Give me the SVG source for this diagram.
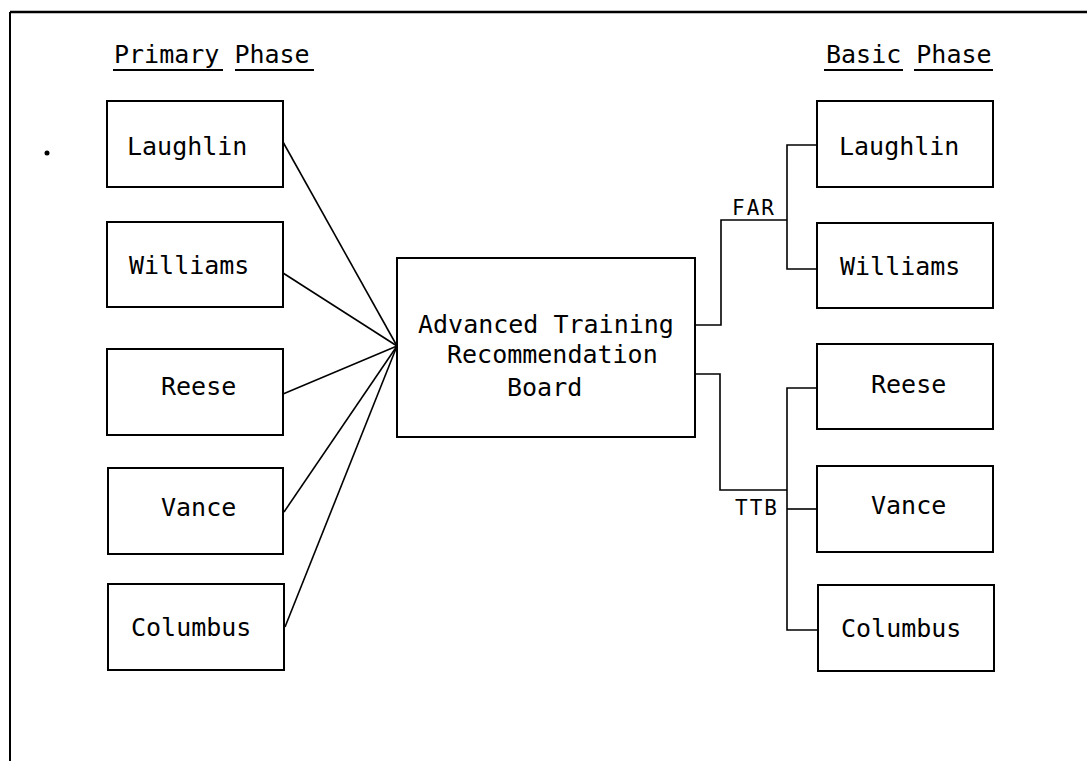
<svg xmlns="http://www.w3.org/2000/svg" width="1087" height="761" viewBox="0 0 1087 761">
<style>
.box{fill:#fff;stroke:#000;stroke-width:2}
.t{font-family:"DejaVu Sans Mono","Liberation Mono",monospace;font-size:25px;fill:#000}
.s{font-family:"DejaVu Sans Mono","Liberation Mono",monospace;font-size:21px;letter-spacing:2px;fill:#000}
.c{fill:none;stroke:#000;stroke-width:1.6}
.u{stroke:#000;stroke-width:2}
</style>
<rect width="1087" height="761" fill="#fff"/>
<g id="frame">
<line x1="10" y1="12" x2="1087" y2="12" stroke="#000" stroke-width="2.5"/>
<line x1="10" y1="12" x2="10" y2="761" stroke="#000" stroke-width="2"/>
<circle cx="47" cy="153" r="2.5" fill="#000"/>
</g>
<g id="headers">
<text class="t" x="114" y="63">Primary Phase</text>
<line class="u" x1="113" y1="70" x2="223" y2="70"/>
<line class="u" x1="235" y1="70" x2="314" y2="70"/>
<text class="t" x="826" y="63">Basic Phase</text>
<line class="u" x1="824" y1="70" x2="903" y2="70"/>
<line class="u" x1="914" y1="70" x2="993" y2="70"/>
</g>
<g id="connectors">
<line class="c" x1="283" y1="142" x2="397" y2="346"/>
<line class="c" x1="283" y1="273" x2="397" y2="346"/>
<line class="c" x1="283" y1="394" x2="397" y2="346"/>
<line class="c" x1="284" y1="512" x2="397" y2="346"/>
<line class="c" x1="285" y1="627" x2="397" y2="346"/>
<polyline class="c" points="695,325 721,325 721,220 787,220"/>
<polyline class="c" points="817,145 787,145 787,269 817,269"/>
<polyline class="c" points="695,374 720,374 720,490 787,490"/>
<polyline class="c" points="817,388 787,388 787,630 817,630"/>
<line class="c" x1="787" y1="509" x2="817" y2="509"/>
<text class="s" x="732" y="215">FAR</text>
<text class="s" x="735" y="515">TTB</text>
</g>
<g id="p-laughlin"><rect class="box" x="107" y="101" width="176" height="86"/><text class="t" x="127" y="155">Laughlin</text></g>
<g id="p-williams"><rect class="box" x="107" y="222" width="176" height="85"/><text class="t" x="129" y="274">Williams</text></g>
<g id="p-reese"><rect class="box" x="107" y="349" width="176" height="86"/><text class="t" x="161" y="395">Reese</text></g>
<g id="p-vance"><rect class="box" x="108" y="468" width="175" height="86"/><text class="t" x="161" y="516">Vance</text></g>
<g id="p-columbus"><rect class="box" x="108" y="584" width="176" height="86"/><text class="t" x="131" y="636">Columbus</text></g>
<g id="board"><rect class="box" x="397" y="258" width="298" height="179"/>
<text class="t" x="418" y="333">Advanced Training</text>
<text class="t" x="447" y="363">Recommendation</text>
<text class="t" x="507" y="396">Board</text></g>
<g id="b-laughlin"><rect class="box" x="817" y="101" width="176" height="86"/><text class="t" x="839" y="155">Laughlin</text></g>
<g id="b-williams"><rect class="box" x="817" y="223" width="176" height="85"/><text class="t" x="840" y="275">Williams</text></g>
<g id="b-reese"><rect class="box" x="817" y="344" width="176" height="85"/><text class="t" x="871" y="393">Reese</text></g>
<g id="b-vance"><rect class="box" x="817" y="466" width="176" height="86"/><text class="t" x="871" y="514">Vance</text></g>
<g id="b-columbus"><rect class="box" x="818" y="585" width="176" height="86"/><text class="t" x="841" y="637">Columbus</text></g>
</svg>
